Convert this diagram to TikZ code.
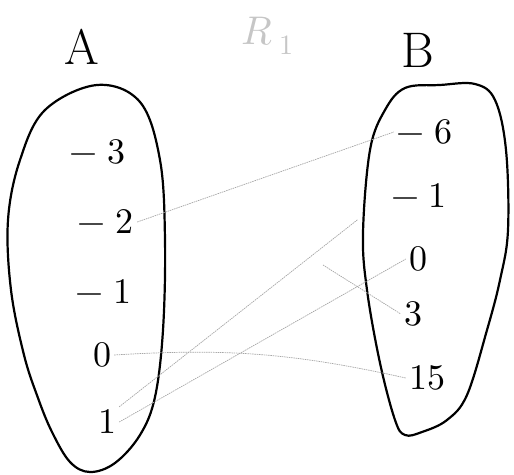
\documentclass[tikz,border=0pt]{standalone}
\usepackage{fontspec}
\usepackage{unicode-math}
\begin{document}
\begin{tikzpicture}[
   x=1pt,y=-1pt,
   setline/.style={line width=2.2pt,line join=round},
   elem/.style={font=\fontsize{36}{40}\selectfont,inner sep=3pt},
   setname/.style={font=\fontsize{50}{54}\selectfont},
   link/.style={gray!70,line width=0.7pt,dash pattern=on 1.5pt off 0.8pt},
 ]
  \useasboundingbox (0,0) rectangle (514,474);
  \node[setname] (nameA) at (82,47) {A};
  \node[setname] (nameB) at (418,50) {B};
  \node[gray!45,font=\fontsize{40}{44}\selectfont] (rel) at (268,36) {$R_{\;1}$};

  % set A
  \draw[setline] plot[smooth cycle,tension=0.6] coordinates {
    (97,85) (140,102) (160,160) (165,240) (163,330) (155,397) (140,435)
    (115,463) (90,472) (70,462) (52,432) (38,398) (24,355) (11,290)
    (8,220) (20,160) (45,110)};
  \node[elem] (am3) at (98,152) {$-\;3$};
  \node[elem] (am2) at (106,222) {$-\;2$};
  \node[elem] (am1) at (104,292) {$-\;1$};
  \node[elem] (a0)  at (102,355) {$0$};
  \node[elem] (a1)  at (107,422) {$1$};

  % set B
  \draw[setline] plot[smooth cycle,tension=0.6] coordinates {
    (440,85) (475,84) (495,100) (506,150) (508,230) (500,280) (487,330)
    (467,395) (447,420) (422,432) (405,435) (395,420) (380,363) (367,290)
    (363,233) (370,150) (385,110) (405,88)};
  \node[elem] (bm6) at (425,132) {$-\;6$};
  \node[elem] (bm1) at (419,196) {$-\;1$};
  \node[elem] (b0)  at (418,259) {$0$};
  \node[elem] (b3)  at (413,314) {$3$};
  \node[elem] (b15) at (427,378) {$15$};

  \coordinate (stray) at (323,265);

  \draw[link] (am2.east) -- (bm6.west);
  \draw[link,shorten >=38pt] (a1.north east) -- (bm1.west);
  \draw[link] (a1.east) -- (b0.west);
  \draw[link] (a0.east) to[bend left=8] (b15.west);
  \draw[link] (stray) -- (b3.west);
 \end{tikzpicture}
\end{document}
